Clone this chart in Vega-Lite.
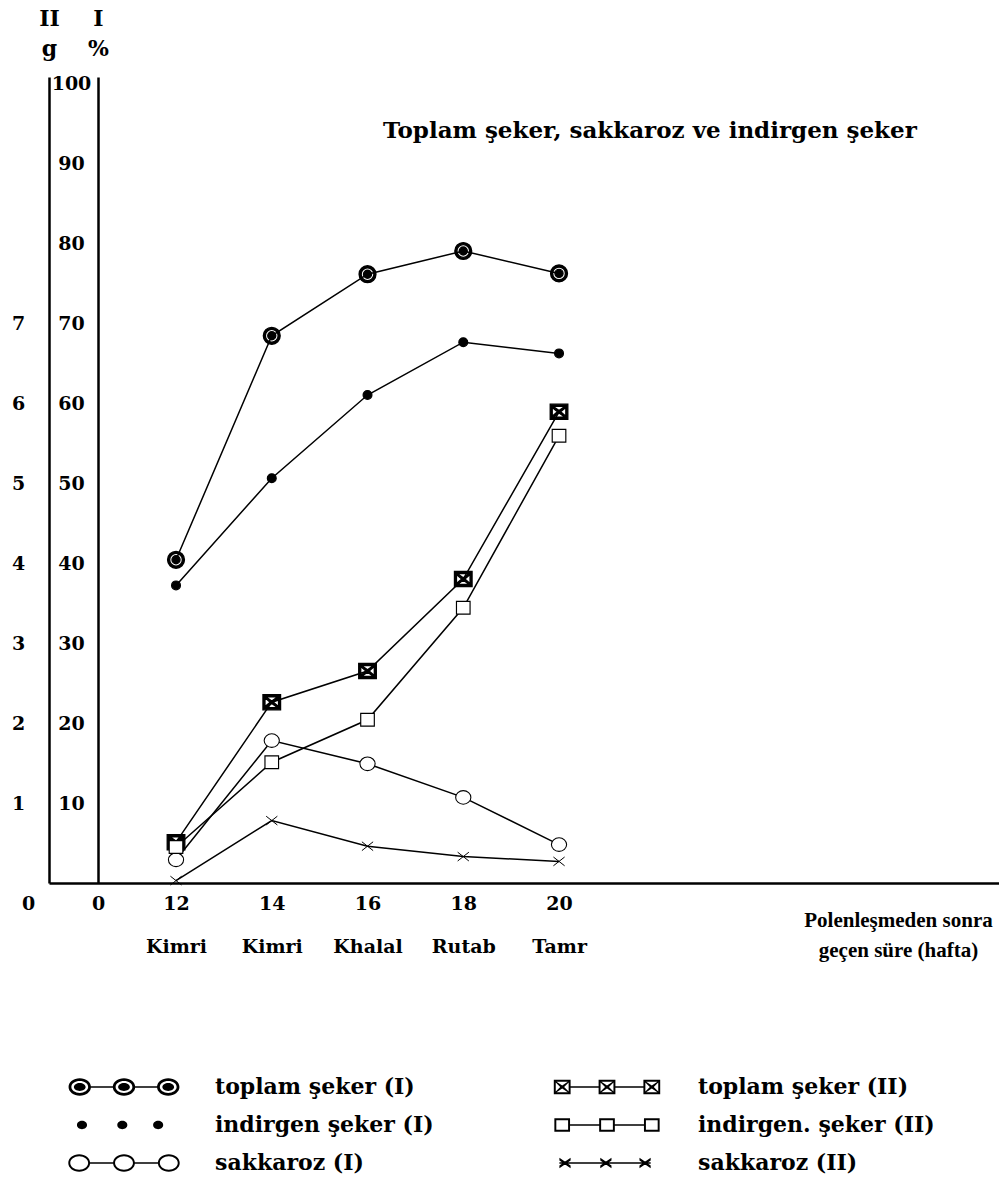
{
  "$schema": "https://vega.github.io/schema/vega-lite/v6.json",
  "autosize": "none",
  "padding": {"left": 49, "top": 77, "right": 0, "bottom": 317},
  "width": 950,
  "height": 806,
  "background": "white",
  "title": {"text": "Toplam şeker, sakkaroz ve indirgen şeker", "anchor": "start", "frame": "group", "offset": -136, "dx": 334, "font": "DejaVu Serif", "fontSize": 23, "fontWeight": "bold", "color": "black"},
  "data": {"values": [
    {"week": 12, "value": 40.4, "series": "toplam şeker (I)", "unit": "I"},
    {"week": 14, "value": 68.4, "series": "toplam şeker (I)", "unit": "I"},
    {"week": 16, "value": 76.1, "series": "toplam şeker (I)", "unit": "I"},
    {"week": 18, "value": 79.0, "series": "toplam şeker (I)", "unit": "I"},
    {"week": 20, "value": 76.2, "series": "toplam şeker (I)", "unit": "I"},
    {"week": 12, "value": 37.2, "series": "indirgen şeker (I)", "unit": "I"},
    {"week": 14, "value": 50.6, "series": "indirgen şeker (I)", "unit": "I"},
    {"week": 16, "value": 61.0, "series": "indirgen şeker (I)", "unit": "I"},
    {"week": 18, "value": 67.6, "series": "indirgen şeker (I)", "unit": "I"},
    {"week": 20, "value": 66.2, "series": "indirgen şeker (I)", "unit": "I"},
    {"week": 12, "value": 2.9, "series": "sakkaroz (I)", "unit": "I"},
    {"week": 14, "value": 17.8, "series": "sakkaroz (I)", "unit": "I"},
    {"week": 16, "value": 14.9, "series": "sakkaroz (I)", "unit": "I"},
    {"week": 18, "value": 10.7, "series": "sakkaroz (I)", "unit": "I"},
    {"week": 20, "value": 4.8, "series": "sakkaroz (I)", "unit": "I"},
    {"week": 12, "value": 0.51, "series": "toplam şeker (II)", "unit": "II"},
    {"week": 14, "value": 2.26, "series": "toplam şeker (II)", "unit": "II"},
    {"week": 16, "value": 2.65, "series": "toplam şeker (II)", "unit": "II"},
    {"week": 18, "value": 3.80, "series": "toplam şeker (II)", "unit": "II"},
    {"week": 20, "value": 5.89, "series": "toplam şeker (II)", "unit": "II"},
    {"week": 12, "value": 0.45, "series": "indirgen. şeker (II)", "unit": "II"},
    {"week": 14, "value": 1.51, "series": "indirgen. şeker (II)", "unit": "II"},
    {"week": 16, "value": 2.04, "series": "indirgen. şeker (II)", "unit": "II"},
    {"week": 18, "value": 3.44, "series": "indirgen. şeker (II)", "unit": "II"},
    {"week": 20, "value": 5.59, "series": "indirgen. şeker (II)", "unit": "II"},
    {"week": 12, "value": 0.03, "series": "sakkaroz (II)", "unit": "II"},
    {"week": 14, "value": 0.78, "series": "sakkaroz (II)", "unit": "II"},
    {"week": 16, "value": 0.46, "series": "sakkaroz (II)", "unit": "II"},
    {"week": 18, "value": 0.33, "series": "sakkaroz (II)", "unit": "II"},
    {"week": 20, "value": 0.27, "series": "sakkaroz (II)", "unit": "II"}
  ]},
  "config": {
    "view": {"stroke": null},
    "axis": {"labelFont": "DejaVu Serif", "labelFontWeight": "bold", "labelFontSize": 19, "labelColor": "black", "titleFont": "DejaVu Serif", "titleFontWeight": "bold", "titleColor": "black", "domainColor": "black", "domainWidth": 2.5, "ticks": false, "tickSize": 0, "grid": false, "labelOverlap": false, "labelFlush": false}
  },
  "layer": [
    {
      "transform": [{"filter": "datum.unit === 'I'"}],
      "encoding": {
        "x": {"field": "week", "type": "quantitative", "scale": {"domain": [9.347, 29.19], "nice": false, "zero": false},
          "axis": {"values": [12, 14, 16, 18, 20], "labelPadding": 11, "labelLineHeight": 43,
            "labelExpr": "[datum.label, datum.value == 12 || datum.value == 14 ? 'Kimri' : datum.value == 16 ? 'Khalal' : datum.value == 18 ? 'Rutab' : 'Tamr']",
            "title": ["Polenleşmeden sonra", "geçen süre (hafta)"], "titleFont": "Liberation Serif", "titleFontSize": 21, "titleX": 849, "titleY": 43, "titleAlign": "center", "titleBaseline": "alphabetic", "titleLineHeight": 30}},
        "y": {"field": "value", "type": "quantitative", "scale": {"domain": [0, 100.75], "nice": false},
          "axis": {"orient": "left", "offset": -49, "values": [10, 20, 30, 40, 50, 60, 70, 80, 90, 100], "labelAlign": "center", "labelBaseline": "middle", "labelPadding": 27,
            "title": ["I", "%"], "titleAngle": 0, "titleX": 0, "titleY": -52, "titleAlign": "center", "titleBaseline": "alphabetic", "titleLineHeight": 30, "titleFontSize": 22}}
      },
      "layer": [
        {"mark": {"type": "line", "color": "black", "strokeWidth": 1.5}, "encoding": {"detail": {"field": "series"}}},
        {"mark": {"type": "point", "size": 256, "opacity": 1, "stroke": "black"},
          "encoding": {
            "shape": {"field": "series", "type": "nominal", "legend": null,
              "scale": {"domain": ["toplam şeker (I)", "toplam şeker (II)", "indirgen şeker (I)", "indirgen. şeker (II)", "sakkaroz (I)", "sakkaroz (II)"],
                "range": ["M-1.05,0A1.05,1.05 0 1,1 1.05,0A1.05,1.05 0 1,1 -1.05,0ZM-0.8,0A0.8,0.8 0 1,0 0.8,0A0.8,0.8 0 1,0 -0.8,0ZM-0.5,0A0.5,0.5 0 1,1 0.5,0A0.5,0.5 0 1,1 -0.5,0Z",
                  "M-1.1,-0.95H1.1V0.95H-1.1ZM-0.75,-0.68L0,-0.15L0.75,-0.68ZM-0.75,0.68L0.75,0.68L0,0.15ZM-0.85,-0.55L-0.85,0.55L-0.2,0ZM0.85,-0.55L0.2,0L0.85,0.55Z",
                  "M-0.55,0A0.55,0.55 0 1,1 0.55,0A0.55,0.55 0 1,1 -0.55,0Z",
                  "M-0.85,-0.8H0.85V0.8H-0.85Z",
                  "M-0.95,0A0.95,0.85 0 1,1 0.95,0A0.95,0.85 0 1,1 -0.95,0Z",
                  "M-0.7,-0.55L0.7,0.55M-0.7,0.55L0.7,-0.55"]}},
            "fill": {"field": "series", "type": "nominal", "legend": null, "scale": {"domain": ["toplam şeker (I)", "toplam şeker (II)", "indirgen şeker (I)", "indirgen. şeker (II)", "sakkaroz (I)", "sakkaroz (II)"], "range": ["black", "black", "black", "white", "white", "white"]}},
            "strokeWidth": {"field": "series", "type": "ordinal", "legend": null, "scale": {"domain": ["toplam şeker (I)", "toplam şeker (II)", "indirgen şeker (I)", "indirgen. şeker (II)", "sakkaroz (I)", "sakkaroz (II)"], "range": [1.4, 1, 1, 1.5, 1.5, 2.2]}}
          }}
      ]
    },
    {
      "transform": [{"filter": "datum.unit === 'II'"}],
      "encoding": {
        "x": {"field": "week", "type": "quantitative", "scale": {"domain": [9.347, 29.19], "nice": false, "zero": false},
          "axis": {"values": [12, 14, 16, 18, 20], "labelPadding": 11, "labelLineHeight": 43,
            "labelExpr": "[datum.label, datum.value == 12 || datum.value == 14 ? 'Kimri' : datum.value == 16 ? 'Khalal' : datum.value == 18 ? 'Rutab' : 'Tamr']",
            "title": ["Polenleşmeden sonra", "geçen süre (hafta)"], "titleFont": "Liberation Serif", "titleFontSize": 21, "titleX": 849, "titleY": 43, "titleAlign": "center", "titleBaseline": "alphabetic", "titleLineHeight": 30}},
        "y": {"field": "value", "type": "quantitative", "scale": {"domain": [0, 10.075], "nice": false},
          "axis": {"orient": "left", "offset": 0, "values": [1, 2, 3, 4, 5, 6, 7], "labelAlign": "center", "labelBaseline": "middle", "labelPadding": 31,
            "title": ["II", "g"], "titleAngle": 0, "titleX": 0, "titleY": -52, "titleAlign": "center", "titleBaseline": "alphabetic", "titleLineHeight": 30, "titleFontSize": 22}}
      },
      "layer": [
        {"mark": {"type": "line", "color": "black", "strokeWidth": 1.5}, "encoding": {"detail": {"field": "series"}}},
        {"mark": {"type": "point", "size": 256, "opacity": 1, "stroke": "black"},
          "encoding": {
            "shape": {"field": "series", "type": "nominal", "legend": null,
              "scale": {"domain": ["toplam şeker (I)", "toplam şeker (II)", "indirgen şeker (I)", "indirgen. şeker (II)", "sakkaroz (I)", "sakkaroz (II)"],
                "range": ["M-1.05,0A1.05,1.05 0 1,1 1.05,0A1.05,1.05 0 1,1 -1.05,0ZM-0.8,0A0.8,0.8 0 1,0 0.8,0A0.8,0.8 0 1,0 -0.8,0ZM-0.5,0A0.5,0.5 0 1,1 0.5,0A0.5,0.5 0 1,1 -0.5,0Z",
                  "M-1.1,-0.95H1.1V0.95H-1.1ZM-0.75,-0.68L0,-0.15L0.75,-0.68ZM-0.75,0.68L0.75,0.68L0,0.15ZM-0.85,-0.55L-0.85,0.55L-0.2,0ZM0.85,-0.55L0.2,0L0.85,0.55Z",
                  "M-0.55,0A0.55,0.55 0 1,1 0.55,0A0.55,0.55 0 1,1 -0.55,0Z",
                  "M-0.85,-0.8H0.85V0.8H-0.85Z",
                  "M-0.95,0A0.95,0.85 0 1,1 0.95,0A0.95,0.85 0 1,1 -0.95,0Z",
                  "M-0.7,-0.55L0.7,0.55M-0.7,0.55L0.7,-0.55"]}},
            "fill": {"field": "series", "type": "nominal", "legend": null, "scale": {"domain": ["toplam şeker (I)", "toplam şeker (II)", "indirgen şeker (I)", "indirgen. şeker (II)", "sakkaroz (I)", "sakkaroz (II)"], "range": ["black", "black", "black", "white", "white", "white"]}},
            "strokeWidth": {"field": "series", "type": "ordinal", "legend": null, "scale": {"domain": ["toplam şeker (I)", "toplam şeker (II)", "indirgen şeker (I)", "indirgen. şeker (II)", "sakkaroz (I)", "sakkaroz (II)"], "range": [1.4, 1, 1, 1.5, 1.5, 2.2]}}
          }}
      ]
    },
    {
      "transform": [{"filter": "false"}],
      "mark": {"type": "point"},
      "encoding": {
        "y": {"field": "value", "type": "quantitative", "scale": {"domain": [0, 100.75], "nice": false},
          "axis": {"orient": "left", "offset": -49, "values": [0], "domain": false, "labelAlign": "center", "labelBaseline": "middle", "labelPadding": 0, "labelOffset": 20, "title": null}}
      }
    },
    {
      "transform": [{"filter": "false"}],
      "mark": {"type": "point"},
      "encoding": {
        "y": {"field": "value", "type": "quantitative", "scale": {"domain": [0, 10.075], "nice": false},
          "axis": {"orient": "left", "offset": 0, "values": [0], "domain": false, "labelAlign": "center", "labelBaseline": "middle", "labelPadding": 21, "labelOffset": 20, "title": null}}
      }
    },
    {
      "transform": [{"filter": "false"}],
      "mark": {"type": "point", "filled": true, "fill": "black", "stroke": "black", "strokeWidth": 0, "opacity": 1},
      "encoding": {
        "shape": {"field": "series", "type": "nominal",
          "scale": {"domain": ["toplam şeker (I)", "indirgen şeker (I)", "sakkaroz (I)", "toplam şeker (II)", "indirgen. şeker (II)", "sakkaroz (II)"],
            "range": [
              "M-0.99,0A0.2,0.155 0 1,1 -0.59,0A0.2,0.155 0 1,1 -0.99,0ZM-0.94,0A0.15,0.105 0 1,0 -0.64,0A0.15,0.105 0 1,0 -0.94,0ZM-0.895,0A0.105,0.07 0 1,1 -0.685,0A0.105,0.07 0 1,1 -0.895,0ZM-0.2,0A0.2,0.155 0 1,1 0.2,0A0.2,0.155 0 1,1 -0.2,0ZM-0.15,0A0.15,0.105 0 1,0 0.15,0A0.15,0.105 0 1,0 -0.15,0ZM-0.105,0A0.105,0.07 0 1,1 0.105,0A0.105,0.07 0 1,1 -0.105,0ZM0.59,0A0.2,0.155 0 1,1 0.99,0A0.2,0.155 0 1,1 0.59,0ZM0.64,0A0.15,0.105 0 1,0 0.94,0A0.15,0.105 0 1,0 0.64,0ZM0.685,0A0.105,0.07 0 1,1 0.895,0A0.105,0.07 0 1,1 0.685,0ZM-0.6,-0.0125H-0.19V0.0125H-0.6ZM0.19,-0.0125H0.6V0.0125H0.19Z",
              "M-0.84,0A0.09,0.075 0 1,1 -0.66,0A0.09,0.075 0 1,1 -0.84,0ZM-0.12,0A0.09,0.075 0 1,1 0.06,0A0.09,0.075 0 1,1 -0.12,0ZM0.52,0A0.09,0.075 0 1,1 0.7,0A0.09,0.075 0 1,1 0.52,0Z",
              "M-0.995,0A0.195,0.155 0 1,1 -0.605,0A0.195,0.155 0 1,1 -0.995,0ZM-0.96,0A0.16,0.12 0 1,0 -0.64,0A0.16,0.12 0 1,0 -0.96,0ZM-0.195,0A0.195,0.155 0 1,1 0.195,0A0.195,0.155 0 1,1 -0.195,0ZM-0.16,0A0.16,0.12 0 1,0 0.16,0A0.16,0.12 0 1,0 -0.16,0ZM0.605,0A0.195,0.155 0 1,1 0.995,0A0.195,0.155 0 1,1 0.605,0ZM0.64,0A0.16,0.12 0 1,0 0.96,0A0.16,0.12 0 1,0 0.64,0ZM-0.615,-0.0125H-0.185V0.0125H-0.615ZM0.185,-0.0125H0.615V0.0125H0.185Z",
              "M-0.95,-0.13H-0.65V0.13H-0.95ZM-0.9,-0.095L-0.8,-0.025L-0.7,-0.095ZM-0.9,0.095L-0.7,0.095L-0.8,0.025ZM-0.915,-0.08L-0.915,0.08L-0.835,0ZM-0.685,-0.08L-0.765,0L-0.685,0.08ZM-0.15,-0.13H0.15V0.13H-0.15ZM-0.1,-0.095L0,-0.025L0.1,-0.095ZM-0.1,0.095L0.1,0.095L0,0.025ZM-0.115,-0.08L-0.115,0.08L-0.035,0ZM0.115,-0.08L0.035,0L0.115,0.08ZM0.65,-0.13H0.95V0.13H0.65ZM0.7,-0.095L0.8,-0.025L0.9,-0.095ZM0.7,0.095L0.9,0.095L0.8,0.025ZM0.685,-0.08L0.685,0.08L0.765,0ZM0.915,-0.08L0.835,0L0.915,0.08ZM-0.65,-0.0125H-0.15V0.0125H-0.65ZM0.15,-0.0125H0.65V0.0125H0.15Z",
              "M-0.94,-0.12H-0.66V0.12H-0.94ZM-0.905,-0.085V0.085H-0.695V-0.085ZM-0.14,-0.12H0.14V0.12H-0.14ZM-0.105,-0.085V0.085H0.105V-0.085ZM0.66,-0.12H0.94V0.12H0.66ZM0.695,-0.085V0.085H0.905V-0.085ZM-0.66,-0.0125H-0.14V0.0125H-0.66ZM0.14,-0.0125H0.66V0.0125H0.14Z",
              "M-0.85,-0.095L-0.65,0.045L-0.65,0.095L-0.85,-0.045ZM-0.85,0.045L-0.65,-0.095L-0.65,-0.045L-0.85,0.095ZM-0.12,-0.095L0.08,0.045L0.08,0.095L-0.12,-0.045ZM-0.12,0.045L0.08,-0.095L0.08,-0.045L-0.12,0.095ZM0.58,-0.095L0.78,0.045L0.78,0.095L0.58,-0.045ZM0.58,0.045L0.78,-0.095L0.78,-0.045L0.58,0.095ZM-0.85,-0.0125H0.78V0.0125H-0.85Z"
            ]},
          "legend": {"title": null, "orient": "none", "legendX": 19, "legendY": 998, "columns": 2, "symbolSize": 12544, "clipHeight": 24, "rowPadding": 14, "columnPadding": 117, "labelOffset": 35,
            "symbolFillColor": "black", "symbolStrokeWidth": 0, "symbolOpacity": 1,
            "labelFont": "DejaVu Serif", "labelFontWeight": "bold", "labelFontSize": 22, "labelColor": "black", "labelLimit": 500}}
      }
    }
  ],
  "resolve": {"scale": {"y": "independent", "shape": "independent"}, "axis": {"y": "independent"}}
}
